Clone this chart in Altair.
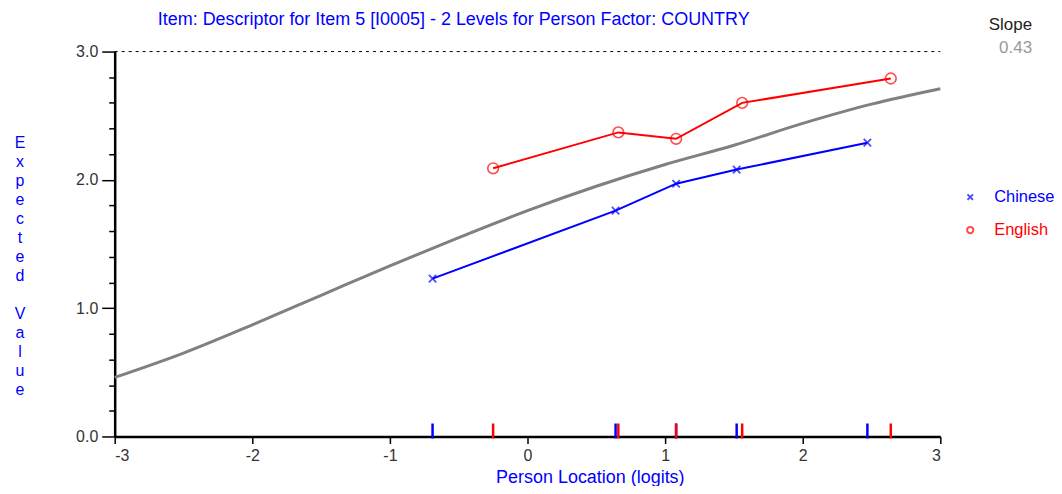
import altair as alt
import pandas as pd

# ---- data ----
curve_x = [-3, -2.5, -2, -1.5, -1, -0.5, 0, 0.5, 1, 1.5, 2, 2.5, 3]
curve_y = [0.46, 0.65, 0.87, 1.10, 1.33, 1.55, 1.76, 1.95, 2.12, 2.27, 2.44, 2.59, 2.71]

chinese_x = [-0.69, 0.64, 1.08, 1.52, 2.47]
chinese_y = [1.23, 1.76, 1.97, 2.08, 2.29]

english_x = [-0.25, 0.66, 1.08, 1.56, 2.64]
english_y = [2.09, 2.37, 2.32, 2.60, 2.79]

x_ticks = [-3, -2, -1, 0, 1, 2, 3]
y_ticks = [0, 0.2, 0.4, 0.6, 0.8, 1.0, 1.2, 1.4, 1.6, 1.8, 2.0, 2.2, 2.4, 2.6, 2.8, 3.0]
max_score = [3]

title_text = "Item: Descriptor for Item 5 [I0005] - 2 Levels for Person Factor: COUNTRY"
x_title = "Person Location (logits)"
y_title_words = ["Expected", "Value"]
slope_label = "Slope"
slope_value = "0.43"
groups = ["Chinese", "English"]

BLUE = "#0000ff"
RED = "#ff0000"
GRAY = "#808080"
FONT = "Liberation Sans"

W, H = 828, 386
LINE_H = 19

curve_df = pd.DataFrame({"x": curve_x, "y": curve_y})
chn_df = pd.DataFrame({"x": chinese_x, "y": chinese_y})
eng_df = pd.DataFrame({"x": english_x, "y": english_y})

xs = alt.Scale(domain=[-3, 3], nice=False, zero=False)
ys = alt.Scale(domain=[0, 3], nice=False)

x_axis = alt.Axis(values=x_ticks, title=None, grid=False, labelFontSize=16, labelFont=FONT,
                  labelColor="#333333", tickSize=7, tickColor="black", tickWidth=1.5,
                  domainColor="black", domainWidth=2.5, labelPadding=4,
                  labelExpr="'' + datum.value")
y_axis = alt.Axis(values=y_ticks, title=None, grid=False, labelFontSize=16, labelFont=FONT,
                  labelColor="#333333",
                  labelExpr="abs(datum.value - round(datum.value)) < 0.001 ? format(datum.value, '.1f') : ''",
                  tickSize={"condition": {"test": "abs(datum.value - round(datum.value)) < 0.001", "value": 13}, "value": 6},
                  tickColor="black", tickWidth=1.5, domainColor="black", domainWidth=2.5, labelPadding=4)

X = lambda: alt.X("x:Q", scale=xs, axis=x_axis)
Y = lambda: alt.Y("y:Q", scale=ys, axis=y_axis)

curve = alt.Chart(curve_df).mark_line(color=GRAY, strokeWidth=3, interpolate="monotone").encode(x=X(), y=Y())

top_rule = alt.Chart(pd.DataFrame({"y": max_score})).mark_rule(
    color="black", strokeWidth=1, strokeDash=[3, 4]).encode(
    y=alt.Y("y:Q", scale=ys, axis=y_axis), x=alt.value(0), x2=alt.value(W))

xshape = "M-1,-1L1,1M-1,1L1,-1"

chn_line = alt.Chart(chn_df).mark_line(color=BLUE, strokeWidth=2).encode(x=X(), y=Y())
chn_pts = alt.Chart(chn_df).mark_point(shape=xshape, color=BLUE, size=55, strokeWidth=1.8, filled=False).encode(x=X(), y=Y())
eng_line = alt.Chart(eng_df).mark_line(color=RED, strokeWidth=2).encode(x=X(), y=Y())
eng_pts = alt.Chart(eng_df).mark_point(shape="circle", color=RED, size=115, strokeWidth=1.6, filled=False).encode(x=X(), y=Y())

chn_ticks = alt.Chart(chn_df).mark_rule(color=BLUE, strokeWidth=2.5).encode(
    x=X(), y=alt.value(H - 13), y2=alt.value(H + 2))
eng_ticks = alt.Chart(eng_df).mark_rule(color=RED, strokeWidth=2.5).encode(
    x=X(), y=alt.value(H - 13), y2=alt.value(H + 2))

title = alt.Chart(pd.DataFrame({"t": [title_text]})).mark_text(
    color=BLUE, fontSize=18, font=FONT, align="center", baseline="middle").encode(
    text="t:N", x=alt.value(340), y=alt.value(-32))

xt = alt.Chart(pd.DataFrame({"t": [x_title]})).mark_text(
    color=BLUE, fontSize=18, font=FONT, align="center", baseline="alphabetic").encode(
    text="t:N", x=alt.value(477), y=alt.value(433))

# vertical, one letter per line, with a blank line between the two words
yt1 = alt.Chart(pd.DataFrame({"t": [y_title_words[0]]})).mark_text(
    color=BLUE, fontSize=16, font=FONT, align="center", baseline="middle",
    text=list(y_title_words[0]), lineHeight=LINE_H).encode(x=alt.value(-95), y=alt.value(92))
yt2 = alt.Chart(pd.DataFrame({"t": [y_title_words[1]]})).mark_text(
    color=BLUE, fontSize=16, font=FONT, align="center", baseline="middle",
    text=list(y_title_words[1]), lineHeight=LINE_H).encode(
    x=alt.value(-95), y=alt.value(92 + (len(y_title_words[0]) + 1) * LINE_H))

slope_t = alt.Chart(pd.DataFrame({"t": [slope_label]})).mark_text(
    color="#222222", fontSize=17, font=FONT, align="right", baseline="middle").encode(
    text="t:N", x=alt.value(920), y=alt.value(-27))
slope_v = alt.Chart(pd.DataFrame({"t": [slope_value]})).mark_text(
    color="#999999", fontSize=17, font=FONT, align="right", baseline="middle").encode(
    text="t:N", x=alt.value(920), y=alt.value(-4))

leg_c_sym = alt.Chart(pd.DataFrame({"t": [groups[0]]})).mark_point(
    shape=xshape, color=BLUE, size=30, strokeWidth=2).encode(x=alt.value(858), y=alt.value(146))
leg_c_txt = alt.Chart(pd.DataFrame({"t": [groups[0]]})).mark_text(
    color=BLUE, fontSize=16.5, font=FONT, align="left", baseline="middle").encode(
    text="t:N", x=alt.value(882), y=alt.value(146))
leg_e_sym = alt.Chart(pd.DataFrame({"t": [groups[1]]})).mark_point(
    shape="circle", color=RED, size=40, strokeWidth=2).encode(x=alt.value(858), y=alt.value(179))
leg_e_txt = alt.Chart(pd.DataFrame({"t": [groups[1]]})).mark_text(
    color=RED, fontSize=16.5, font=FONT, align="left", baseline="middle").encode(
    text="t:N", x=alt.value(882), y=alt.value(179))

chart = alt.layer(
    top_rule, curve, chn_line, eng_line, chn_pts, eng_pts, chn_ticks, eng_ticks,
    title, xt, yt1, yt2, slope_t, slope_v, leg_c_sym, leg_c_txt, leg_e_sym, leg_e_txt
).properties(
    width=W, height=H,
    padding={"left": 107, "top": 43, "right": 114, "bottom": 49},
    autosize=alt.AutoSizeParams(type="none"),
    background="white",
).configure_view(strokeWidth=0)

chart.save("out.html", embed_options={"renderer": "svg", "actions": False})
